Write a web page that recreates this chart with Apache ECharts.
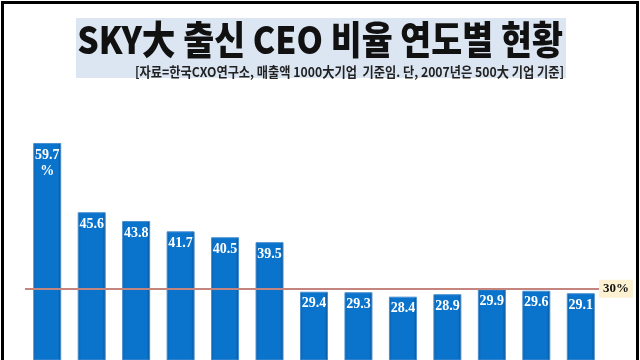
<!DOCTYPE html>
<html><head><meta charset="utf-8">
<script src="https://cdn.jsdelivr.net/npm/echarts@6/dist/echarts.min.js"></script>
<style>html,body{margin:0;padding:0;background:#fff}#c{width:640px;height:360px}</style>
</head><body><div id="c"></div>
<script>
const categories = ['2007','2008','2009','2010','2011','2012','2013','2014','2015','2016','2017','2018','2019'];
const values = [59.7, 45.6, 43.8, 41.7, 40.5, 39.5, 29.4, 29.3, 28.4, 28.9, 29.9, 29.6, 29.1];
const refValue = 30;
const titleText = 'SKY大 출신 CEO 비율 연도별 현황';
const subText = '[자료=한국CXO연구소, 매출액 1000大기업  기준임. 단, 2007년은 500大 기업 기준]';

const chart = echarts.init(document.getElementById('c'));
chart.setOption({
  animation: false,
  backgroundColor: '#fff',
  grid: { left: 25, right: 37, top: 92.4, bottom: 0 },
  xAxis: { type: 'category', data: categories, show: false },
  yAxis: { type: 'value', min: 15.5, max: 70, show: false, splitLine: { show: false } },
  series: [{
    type: 'bar',
    data: values,
    barWidth: 28,
    itemStyle: {
      color: new echarts.graphic.LinearGradient(0, 0, 1, 0, [
        { offset: 0, color: '#0d5fa8' },
        { offset: 0.12, color: '#0a74cc' },
        { offset: 0.88, color: '#0a74cc' },
        { offset: 1, color: '#0b4f8c' }
      ]),
      borderColor: '#4a8fd0',
      borderWidth: 1
    },
    label: {
      show: true,
      position: 'insideTop',
      distance: 4,
      color: '#ffffff',
      fontFamily: 'Liberation Serif',
      fontWeight: 'bold',
      fontSize: 14,
      lineHeight: 16,
      formatter: p => p.dataIndex === 0 ? p.value + '\n%' : String(p.value)
    },
    markLine: {
      silent: true,
      symbol: 'none',
      data: [{ yAxis: refValue }],
      lineStyle: { color: '#c4857f', width: 2, type: 'solid' },
      label: {
        position: 'end',
        distance: -4,
        formatter: refValue + '%',
        color: '#111',
        fontFamily: 'Liberation Serif',
        fontWeight: 'bold',
        fontSize: 13,
        backgroundColor: '#fdf1d2',
        padding: [3, 4, 2, 4]
      }
    }
  }],
  graphic: [
    { type: 'rect', shape: { x: 2.5, y: 2.5, width: 635, height: 380 }, style: { fill: 'none', stroke: '#000', lineWidth: 3 }, z: 10 },
    { type: 'rect', shape: { x: 76, y: 18, width: 490, height: 60 }, style: { fill: '#dce6f2' }, z: 1 },
    { type: 'text', x: 320, y: 40, scaleX: 0.99, scaleY: 1.12, z: 2,
      style: { text: titleText, font: '900 34px "Noto Sans CJK KR"', fill: '#111', align: 'center', verticalAlign: 'middle' } },
    { type: 'text', x: 564, y: 72, scaleX: 0.94, scaleY: 1.05, z: 2,
      style: { text: subText, font: 'bold 13px "Noto Sans CJK KR"', fill: '#222', align: 'right', verticalAlign: 'middle' } }
  ]
});
</script></body></html>
